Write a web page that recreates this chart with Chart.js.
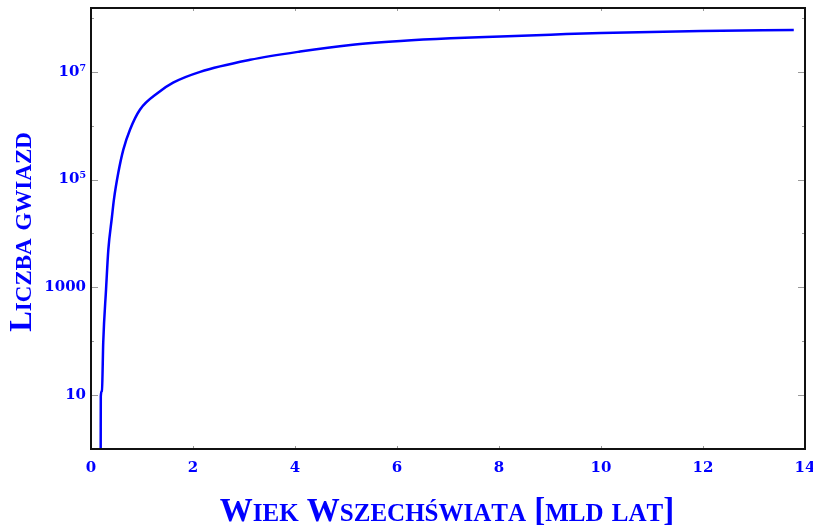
<!DOCTYPE html>
<html>
<head>
<meta charset="utf-8">
<script src="https://cdn.jsdelivr.net/npm/chart.js@4/dist/chart.umd.min.js"></script>
<style>
  html, body { margin: 0; padding: 0; background: #fff; }
  #wrap { width: 813px; height: 527px; }
</style>
</head>
<body>
<div id="wrap"><canvas id="stars-chart"></canvas></div>
<script>
// wiek Wszechświata [mld lat] i liczba gwiazd
const ages = [0.19, 0.192, 0.215, 0.24, 0.295, 0.34, 0.41, 0.45, 0.536, 0.634, 0.766, 0.962,
    1.315, 1.61, 2.14, 3.12, 4.10, 5.09, 6.07, 7.05, 8.03, 9.01, 10.0, 11.96, 13.78];
const stars = [1.0, 9.5, 12, 96, 920, 5000, 2.0e4, 4.3e4, 1.35e5, 3.6e5, 8.5e5, 2.0e6,
    4.1e6, 6.3e6, 1.0e7, 1.67e7, 2.38e7, 3.16e7, 3.75e7, 4.21e7, 4.55e7, 4.9e7, 5.27e7, 5.74e7, 6.0e7];
const yTicks = [1, 10, 100, 1000, 1e4, 1e5, 1e6, 1e7, 1e8];
const yLabels = { 10: '10', 1000: '1000', 100000: '10⁵', 10000000: '10⁷' };
const xTitle = 'Wiek Wszechświata [mld lat]';
const yTitle = 'Liczba gwiazd';

const blue = '#0000ff';
const family = '"DejaVu Serif", serif';
const titleFamily = '"Liberation Serif", serif';

// kapitaliki robione ręcznie: małe litery jako mniejsze wersaliki
function smallCapsRuns(ctx, text, big, small) {
    const runs = [];
    let w = 0;
    for (const ch of text) {
        const lower = ch !== ch.toUpperCase();
        const size = lower ? small : big;
        ctx.font = 'bold ' + size + 'px ' + titleFamily;
        const s = lower ? ch.toUpperCase() : ch;
        const cw = ctx.measureText(s).width;
        runs.push({ s: s, size: size, w: cw });
        w += cw;
    }
    return { runs: runs, width: w };
}

function drawSmallCaps(ctx, text, big, small) {
    const r = smallCapsRuns(ctx, text, big, small);
    let x = -r.width / 2;
    r.runs.forEach(run => {
        ctx.font = 'bold ' + run.size + 'px ' + titleFamily;
        ctx.fillText(run.s, x, 0);
        x += run.w;
    });
}

const titlesPlugin = {
    id: 'titles',
    afterDraw(chart) {
        const { ctx } = chart;
        ctx.save();
        ctx.fillStyle = blue;
        ctx.textAlign = 'left';
        ctx.textBaseline = 'alphabetic';
        ctx.translate(447, 521);
        drawSmallCaps(ctx, xTitle, 33, 25);
        ctx.restore();

        ctx.save();
        ctx.fillStyle = blue;
        ctx.textAlign = 'left';
        ctx.textBaseline = 'alphabetic';
        ctx.translate(31, 232);
        ctx.rotate(-Math.PI / 2);
        drawSmallCaps(ctx, yTitle, 31, 23);
        ctx.restore();
    }
};

// ramka i krótkie kreski skali do środka
const framePlugin = {
    id: 'frame',
    afterDatasetsDraw(chart) {
        const { ctx, chartArea: a, scales } = chart;
        ctx.save();
        ctx.strokeStyle = '#999';
        ctx.lineWidth = 1;
        scales.y.ticks.forEach(t => {
            const py = Math.round(scales.y.getPixelForValue(t.value)) + 0.5;
            const len = yLabels[t.value] ? 7 : 3;
            ctx.beginPath();
            ctx.moveTo(a.left, py); ctx.lineTo(a.left + len, py);
            ctx.moveTo(a.right, py); ctx.lineTo(a.right - len, py);
            ctx.stroke();
        });
        scales.x.ticks.forEach(t => {
            const px = Math.round(scales.x.getPixelForValue(t.value)) + 0.5;
            ctx.beginPath();
            ctx.moveTo(px, a.top); ctx.lineTo(px, a.top + 3);
            ctx.moveTo(px, a.bottom); ctx.lineTo(px, a.bottom - 3);
            ctx.stroke();
        });
        ctx.strokeStyle = '#111';
        ctx.lineWidth = 2;
        ctx.strokeRect(a.left, a.top, a.right - a.left, a.bottom - a.top);
        ctx.restore();
    }
};

new Chart(document.getElementById('stars-chart'), {
    type: 'line',
    data: {
        datasets: [{
            data: ages.map((x, i) => ({ x: x, y: stars[i] })),
            borderColor: blue,
            borderWidth: 2.5,
            pointRadius: 0,
            fill: false,
            cubicInterpolationMode: 'monotone'
        }]
    },
    options: {
        responsive: true,
        maintainAspectRatio: false,
        animation: false,
        layout: { padding: { top: 8, right: 8, left: 0, bottom: 0 } },
        plugins: { legend: { display: false }, tooltip: { enabled: false } },
        scales: {
            x: {
                type: 'linear',
                min: 0,
                max: 14,
                grid: { display: false, drawTicks: false },
                border: { display: false },
                ticks: {
                    stepSize: 2,
                    padding: 10,
                    color: blue,
                    maxRotation: 0,
                    font: { family: family, size: 15, weight: 'bold' }
                },
                afterFit(scale) {
                    scale.height = 78;
                    scale.paddingLeft = 0;
                    scale.paddingRight = 0;
                }
            },
            y: {
                type: 'logarithmic',
                min: 1,
                max: 1.53e8,
                grid: { display: false, drawTicks: false },
                border: { display: false },
                afterBuildTicks(scale) {
                    scale.ticks = yTicks.map(v => ({ value: v }));
                },
                ticks: {
                    padding: 5,
                    color: blue,
                    autoSkip: false,
                    font: { family: family, size: 15, weight: 'bold' },
                    callback: v => yLabels[v] || ''
                },
                afterFit(scale) {
                    scale.width = 91;
                    scale.paddingTop = 0;
                    scale.paddingBottom = 0;
                }
            }
        }
    },
    plugins: [framePlugin, titlesPlugin]
});
</script>
</body>
</html>
